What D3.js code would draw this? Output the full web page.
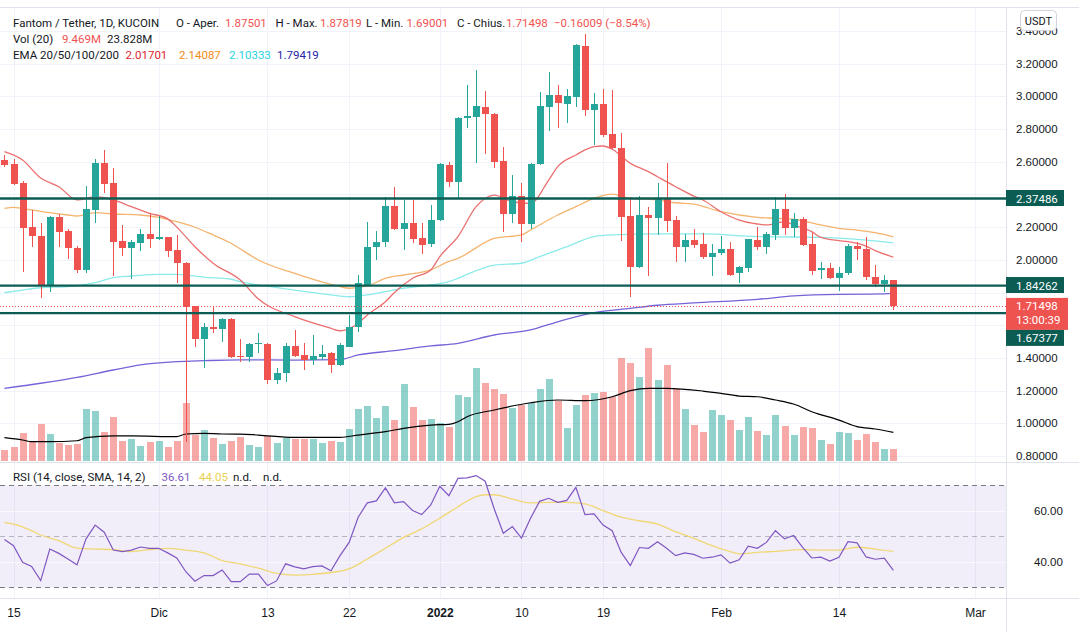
<!DOCTYPE html>
<html>
<head>
<meta charset="utf-8">
<script src="https://cdn.jsdelivr.net/npm/d3@7"></script>
<style>
  body { margin: 0; background: #fff; }
  svg { display: block; font-family: Roboto, 'Noto Sans', sans-serif; }
</style>
</head>
<body>
<script>
(function (d3) {
  'use strict';

  // FTM/USDT daily, KuCoin, 14 Nov 2021 .. 20 Feb 2022
  const firstDay = '2021-11-14';
  const afterLastDay = '2022-02-21';

  const opens = [
    2.612, 2.586, 2.472, 2.199, 2.146, 1.840, 2.260, 2.178, 2.074, 1.938, 2.305, 2.594, 2.472, 2.115, 2.074, 2.105, 2.156,
    2.127, 2.137, 2.060, 1.979, 1.717, 1.517, 1.591, 1.579, 1.638, 1.412, 1.404, 1.482, 1.485, 1.265, 1.306, 1.473,
    1.418, 1.387, 1.407, 1.428, 1.357, 1.469, 1.591, 1.846, 2.076, 2.107, 2.331, 2.188, 2.227, 2.131, 2.094,
    2.243, 2.580, 2.478, 2.866, 2.876, 2.933, 2.890, 2.604, 2.278, 2.390, 2.217, 2.584, 2.937, 3.008, 2.953, 2.997,
    3.308, 2.916, 2.953, 2.769, 2.682, 2.268, 1.954, 2.274, 2.254, 2.376, 2.243, 2.076, 2.121, 2.097, 2.019,
    2.040, 2.064, 1.917, 1.952, 2.121, 2.080, 2.152, 2.309, 2.192, 2.248, 2.097, 1.938, 1.952, 1.887, 1.917, 2.084,
    2.064, 1.897, 1.852, 1.87501
  ];
  const highs = [
    2.640, 2.615, 2.480, 2.305, 2.223, 2.265, 2.280, 2.190, 2.085, 2.451, 2.615, 2.672, 2.560, 2.213, 2.120, 2.186, 2.284,
    2.268, 2.140, 2.152, 1.985, 1.720, 1.615, 1.717, 1.642, 1.645, 1.514, 1.490, 1.550, 1.490, 1.336, 1.493, 1.571,
    1.489, 1.540, 1.479, 1.435, 1.490, 1.662, 1.907, 2.233, 2.178, 2.386, 2.447, 2.366, 2.366, 2.227, 2.335,
    2.590, 2.600, 2.875, 3.069, 3.161, 3.032, 2.895, 2.688, 2.519, 2.468, 2.590, 3.028, 3.151, 3.069, 3.043, 3.318,
    3.381, 3.022, 3.043, 3.040, 2.778, 2.386, 2.390, 2.325, 2.468, 2.594, 2.270, 2.158, 2.186, 2.162, 2.097,
    2.146, 2.111, 1.965, 2.130, 2.199, 2.172, 2.382, 2.402, 2.284, 2.260, 2.166, 1.989, 1.980, 1.958, 2.097, 2.111,
    2.142, 1.968, 1.907, 1.87819
  ];
  const lows = [
    2.570, 2.455, 1.927, 2.076, 1.765, 1.805, 2.076, 2.003, 1.917, 1.921, 2.223, 2.407, 1.901, 2.023, 1.881, 2.056, 2.070,
    2.120, 2.019, 1.860, 0.887, 1.469, 1.336, 1.554, 1.499, 1.400, 1.377, 1.377, 1.432, 1.240, 1.240, 1.254, 1.405,
    1.326, 1.357, 1.387, 1.306, 1.350, 1.465, 1.560, 1.840, 1.999, 2.080, 2.180, 2.060, 2.101, 2.035, 2.080,
    2.240, 2.447, 2.376, 2.808, 2.594, 2.647, 2.560, 2.172, 2.227, 2.107, 2.186, 2.580, 2.790, 2.808, 2.839, 2.937,
    2.880, 2.703, 2.753, 2.675, 2.117, 1.771, 1.950, 1.901, 2.152, 2.172, 1.989, 1.987, 2.070, 2.003, 1.901,
    2.030, 1.900, 1.860, 1.927, 2.060, 2.033, 2.121, 2.152, 2.137, 2.085, 1.907, 1.881, 1.883, 1.811, 1.910, 1.999,
    1.876, 1.836, 1.805, 1.69001
  ];
  const closes = [
    2.582, 2.464, 2.196, 2.147, 1.840, 2.260, 2.172, 2.070, 1.938, 2.311, 2.594, 2.464, 2.111, 2.074, 2.109, 2.156, 2.129,
    2.137, 2.056, 1.979, 1.713, 1.517, 1.591, 1.579, 1.638, 1.407, 1.405, 1.485, 1.490, 1.265, 1.306, 1.473, 1.412,
    1.387, 1.412, 1.424, 1.357, 1.479, 1.591, 1.856, 2.076, 2.107, 2.331, 2.188, 2.223, 2.127, 2.090, 2.243,
    2.584, 2.478, 2.869, 2.879, 2.941, 2.890, 2.600, 2.278, 2.390, 2.217, 2.584, 2.941, 3.008, 2.957, 3.002, 3.314,
    2.916, 2.953, 2.763, 2.682, 2.264, 1.958, 2.274, 2.254, 2.376, 2.239, 2.076, 2.121, 2.090, 2.019, 2.040,
    2.066, 1.907, 1.958, 2.125, 2.080, 2.158, 2.309, 2.192, 2.248, 2.090, 1.934, 1.952, 1.887, 1.917, 2.084, 2.064,
    1.893, 1.852, 1.875, 1.71498
  ];
  // volume in millions
  const volumes = [
    8.6, 10.9, 23.5, 15.8, 31.0, 22.4, 14.9, 12.9, 13.8, 44.2, 42.4, 24.1, 37.3, 16.4, 18.1, 12.3, 15.8,
    16.4, 11.5, 16.4, 48.8, 21.5, 25.8, 19.2, 13.5, 16.4, 20.1, 12.9, 11.5, 20.7, 14.9, 18.7, 17.8,
    17.8, 17.8, 14.4, 16.4, 15.2, 26.7, 43.9, 46.5, 36.4, 46.5, 34.4, 65.4, 45.6, 34.4, 35.3,
    31.6, 28.7, 56.0, 54.5, 79.0, 66.6, 61.1, 56.8, 44.5, 47.4, 48.8, 61.1, 69.7, 51.1, 27.8, 47.4,
    56.0, 57.9, 58.8, 54.5, 87.6, 83.8, 71.7, 96.7, 68.9, 81.8, 60.9, 43.9, 30.1, 24.1, 43.1,
    38.5, 34.4, 25.8, 36.8, 25.0, 21.5, 38.5, 29.3, 21.5, 28.2, 27.3, 17.2, 13.8, 23.9, 23.0, 17.2,
    22.4, 15.2, 9.5, 9.469
  ];
  const volumeMa = [
    ['2021-11-14', 19.2], ['2021-11-16', 17.2], ['2021-11-17', 15.8], ['2021-11-19', 15.8], ['2021-11-22', 16.6],
    ['2021-11-23', 19.2], ['2021-11-26', 20.7], ['2021-11-28', 20.7], ['2021-12-03', 20.1], ['2021-12-04', 22.4],
    ['2021-12-06', 23.0], ['2021-12-08', 22.4], ['2021-12-10', 22.3], ['2021-12-12', 21.5], ['2021-12-16', 19.5],
    ['2021-12-21', 19.5], ['2021-12-23', 21.5], ['2021-12-26', 24.4], ['2021-12-28', 27.3], ['2021-12-31', 30.1],
    ['2022-01-02', 30.7], ['2022-01-03', 33.0], ['2022-01-04', 37.3], ['2022-01-07', 43.1], ['2022-01-11', 49.3],
    ['2022-01-14', 51.7], ['2022-01-17', 51.1], ['2022-01-20', 54.5], ['2022-01-22', 59.7], ['2022-01-24', 61.7],
    ['2022-01-26', 61.7], ['2022-01-30', 59.4], ['2022-02-01', 57.4], ['2022-02-03', 55.1], ['2022-02-05', 54.5],
    ['2022-02-07', 51.7], ['2022-02-09', 48.2], ['2022-02-11', 41.6], ['2022-02-14', 34.4], ['2022-02-16', 28.7],
    ['2022-02-18', 26.7], ['2022-02-20', 23.828]
  ];

  const ema20 = [
    ['2021-11-14', 2.661], ['2021-11-16', 2.61], ['2021-11-18', 2.50], ['2021-11-20', 2.447], ['2021-11-22', 2.366],
    ['2021-11-24', 2.386], ['2021-11-26', 2.366], ['2021-11-28', 2.325], ['2021-11-30', 2.284], ['2021-12-02', 2.25],
    ['2021-12-03', 2.20], ['2021-12-05', 2.08], ['2021-12-07', 1.979], ['2021-12-10', 1.876], ['2021-12-12', 1.76],
    ['2021-12-16', 1.652], ['2021-12-20', 1.581], ['2021-12-21', 1.566], ['2021-12-23', 1.612], ['2021-12-24', 1.662],
    ['2021-12-26', 1.744], ['2021-12-27', 1.80], ['2021-12-29', 1.887], ['2021-12-31', 1.938], ['2022-01-01', 2.02],
    ['2022-01-03', 2.142], ['2022-01-05', 2.325], ['2022-01-07', 2.396], ['2022-01-09', 2.355], ['2022-01-11', 2.345],
    ['2022-01-13', 2.488], ['2022-01-14', 2.57], ['2022-01-16', 2.641], ['2022-01-18', 2.692], ['2022-01-19', 2.696],
    ['2022-01-20', 2.676], ['2022-01-22', 2.59], ['2022-01-24', 2.539], ['2022-01-25', 2.508], ['2022-01-27', 2.447],
    ['2022-01-29', 2.39], ['2022-01-30', 2.366], ['2022-02-01', 2.294], ['2022-02-03', 2.243], ['2022-02-05', 2.219],
    ['2022-02-06', 2.213], ['2022-02-08', 2.233], ['2022-02-09', 2.213], ['2022-02-11', 2.172], ['2022-02-12', 2.137],
    ['2022-02-14', 2.117], ['2022-02-15', 2.111], ['2022-02-17', 2.084], ['2022-02-18', 2.056], ['2022-02-20', 2.01701]
  ];
  const ema50 = [
    ['2021-11-14', 2.315], ['2021-11-15', 2.321], ['2021-11-17', 2.305], ['2021-11-19', 2.288], ['2021-11-21', 2.274],
    ['2021-11-22', 2.268], ['2021-11-24', 2.288], ['2021-11-26', 2.28], ['2021-11-29', 2.274], ['2021-12-01', 2.26],
    ['2021-12-03', 2.233], ['2021-12-05', 2.199], ['2021-12-07', 2.152], ['2021-12-09', 2.101], ['2021-12-10', 2.066],
    ['2021-12-12', 1.999], ['2021-12-16', 1.917], ['2021-12-20', 1.85], ['2021-12-22', 1.826], ['2021-12-24', 1.84],
    ['2021-12-26', 1.887], ['2021-12-28', 1.907], ['2021-12-31', 1.938], ['2022-01-02', 1.99], ['2022-01-03', 2.009],
    ['2022-01-07', 2.131], ['2022-01-10', 2.152], ['2022-01-11', 2.182], ['2022-01-14', 2.274], ['2022-01-16', 2.325],
    ['2022-01-18', 2.376], ['2022-01-20', 2.402], ['2022-01-22', 2.376], ['2022-01-25', 2.366], ['2022-01-27', 2.349],
    ['2022-01-29', 2.341], ['2022-02-01', 2.294], ['2022-02-05', 2.26], ['2022-02-07', 2.254], ['2022-02-09', 2.248],
    ['2022-02-12', 2.213], ['2022-02-14', 2.192], ['2022-02-16', 2.182], ['2022-02-18', 2.166], ['2022-02-20', 2.14087]
  ];
  const ema100 = [
    ['2021-11-14', 1.799], ['2021-11-16', 1.815], ['2021-11-18', 1.829], ['2021-11-21', 1.836], ['2021-11-24', 1.86],
    ['2021-11-26', 1.891], ['2021-11-28', 1.901], ['2021-12-01', 1.911], ['2021-12-03', 1.911], ['2021-12-06', 1.893],
    ['2021-12-09', 1.881], ['2021-12-10', 1.866], ['2021-12-12', 1.846], ['2021-12-16', 1.815], ['2021-12-20', 1.785],
    ['2021-12-22', 1.774], ['2021-12-24', 1.785], ['2021-12-26', 1.805], ['2021-12-28', 1.826], ['2021-12-31', 1.846],
    ['2022-01-02', 1.866], ['2022-01-03', 1.887], ['2022-01-07', 1.968], ['2022-01-10', 1.979], ['2022-01-12', 2.019],
    ['2022-01-15', 2.08], ['2022-01-18', 2.142], ['2022-01-20', 2.152], ['2022-01-25', 2.158], ['2022-01-30', 2.158],
    ['2022-02-05', 2.142], ['2022-02-12', 2.137], ['2022-02-16', 2.125], ['2022-02-20', 2.10333]
  ];
  const ema200 = [
    ['2021-11-14', 1.214], ['2021-11-18', 1.245], ['2021-11-22', 1.281], ['2021-11-26', 1.326], ['2021-11-29', 1.357],
    ['2021-12-03', 1.377], ['2021-12-06', 1.383], ['2021-12-10', 1.388], ['2021-12-16', 1.387], ['2021-12-21', 1.39],
    ['2021-12-23', 1.418], ['2021-12-27', 1.444], ['2021-12-31', 1.473], ['2022-01-03', 1.489], ['2022-01-07', 1.54],
    ['2022-01-11', 1.571], ['2022-01-14', 1.621], ['2022-01-18', 1.677], ['2022-01-22', 1.703], ['2022-01-25', 1.722],
    ['2022-01-29', 1.736], ['2022-02-05', 1.758], ['2022-02-09', 1.779], ['2022-02-14', 1.789], ['2022-02-19', 1.791],
    ['2022-02-20', 1.79419]
  ];

  const rsiValues = [
    48.7, 46.3, 39.8, 38.2, 32.6, 45.0, 43.3, 41.1, 38.8, 49.0, 54.4, 51.6, 44.6, 44.0, 44.6, 45.8, 45.3,
    45.3, 43.5, 41.5, 36.1, 32.4, 34.6, 34.6, 36.8, 32.2, 32.2, 35.2, 35.2, 30.7, 32.5, 39.2, 38.0,
    37.2, 38.1, 38.4, 36.5, 42.4, 47.6, 57.5, 63.1, 63.9, 69.0, 63.1, 63.6, 60.1, 58.5, 62.3,
    69.6, 65.9, 72.7, 72.9, 73.8, 71.6, 60.7, 51.2, 53.8, 49.3, 57.1, 63.7, 64.9, 63.3, 64.1, 69.2,
    58.5, 58.8, 54.4, 52.2, 43.7, 38.5, 45.6, 45.3, 47.9, 45.3, 42.4, 43.5, 42.9, 41.4, 41.8,
    42.7, 39.5, 40.8, 46.1, 45.3, 47.6, 52.2, 49.0, 50.3, 45.7, 41.5, 41.8, 40.3, 41.8, 47.9, 47.4,
    41.9, 41.0, 41.4, 36.61
  ];
  const rsiMa = [
    ['2021-11-14', 55.5], ['2021-11-15', 54.8], ['2021-11-17', 52.2], ['2021-11-18', 50.5], ['2021-11-20', 48.3],
    ['2021-11-22', 45.4], ['2021-11-24', 45.0], ['2021-11-26', 44.8], ['2021-11-28', 44.0], ['2021-11-30', 44.8],
    ['2021-12-02', 45.3], ['2021-12-04', 44.6], ['2021-12-06', 43.5], ['2021-12-08', 40.5], ['2021-12-10', 39.2],
    ['2021-12-12', 37.5], ['2021-12-14', 35.5], ['2021-12-16', 34.8], ['2021-12-18', 35.1], ['2021-12-20', 35.8],
    ['2021-12-22', 37.2], ['2021-12-24', 41.1], ['2021-12-26', 45.3], ['2021-12-28', 49.6], ['2021-12-30', 52.9],
    ['2022-01-01', 57.1], ['2022-01-03', 61.6], ['2022-01-05', 65.6], ['2022-01-06', 66.3], ['2022-01-07', 66.3],
    ['2022-01-09', 64.6], ['2022-01-11', 63.1], ['2022-01-13', 63.3], ['2022-01-15', 63.3], ['2022-01-17', 62.7],
    ['2022-01-19', 60.1], ['2022-01-21', 57.5], ['2022-01-23', 56.1], ['2022-01-25', 54.8], ['2022-01-27', 51.8],
    ['2022-01-29', 49.2], ['2022-01-31', 46.3], ['2022-02-02', 44.0], ['2022-02-03', 43.1], ['2022-02-05', 43.7],
    ['2022-02-07', 44.1], ['2022-02-10', 44.8], ['2022-02-12', 44.6], ['2022-02-14', 44.6], ['2022-02-16', 45.7],
    ['2022-02-18', 45.0], ['2022-02-20', 44.05]
  ];

  const priceTicks = [0.8, 1.0, 1.2, 1.4, 1.6, 1.8, 2.0, 2.2, 2.4, 2.6, 2.8, 3.0, 3.2, 3.4];
  const rsiTicks = [40, 60];
  const dateTicks = ['2021-11-15', '2021-12-01', '2021-12-13', '2021-12-22', '2022-01-01',
    '2022-01-10', '2022-01-19', '2022-02-01', '2022-02-14', '2022-03-01'];
  const dateLabels = ['15', 'Dic', '13', '22', '2022', '10', '19', 'Feb', '14', 'Mar'];
  const levels = [2.37486, 1.84262, 1.67377];
  const lastPrice = 1.71498;
  const countdown = '13:00:39';

  const width = 1079;
  const height = 632;
  const axisX = 1007;
  const priceTop = 8;
  const priceBottom = 462;
  const rsiBottom = 598;

  const ink = '#131722';
  const up = '#26a69a';
  const down = '#ef5350';
  const grid = '#f0f3fa';
  const border = '#e0e3eb';
  const levelColor = '#0b5c53';

  const parse = d3.utcParse('%Y-%m-%d');
  const days = d3.utcDay.range(parse(firstDay), parse(afterLastDay));
  const candles = days.map((d, i) => ({
    date: d, o: opens[i], h: highs[i], l: lows[i], c: closes[i], v: volumes[i], rsi: rsiValues[i],
  }));

  const x = d3.scaleUtc()
    .domain([parse('2021-11-15'), parse('2022-03-01')])
    .range([13.5, 975]);
  const y = d3.scaleLinear().domain([0.8, 3.4]).range([456, 30.9]);
  const yVol = d3.scaleLinear().domain([0, 100]).range([460, 343.9]);
  const yRsi = d3.scaleLinear().domain([30, 70]).range([587.3, 485.3]);

  const svg = d3.select('body')
    .append('svg')
    .attr('width', width)
    .attr('height', height);

  const defs = svg.append('defs');
  defs.append('clipPath').attr('id', 'clipPrice')
    .append('rect').attr('x', 0).attr('y', priceTop).attr('width', axisX).attr('height', priceBottom - priceTop);
  defs.append('clipPath').attr('id', 'clipRsi')
    .append('rect').attr('x', 0).attr('y', priceBottom + 1).attr('width', axisX).attr('height', rsiBottom - priceBottom - 1);

  // grid
  const gridG = svg.append('g').attr('shape-rendering', 'crispEdges');
  gridG.selectAll('.vgrid')
    .data(dateTicks)
    .join('line')
    .attr('x1', (d) => Math.round(x(parse(d))) + 0.5)
    .attr('x2', (d) => Math.round(x(parse(d))) + 0.5)
    .attr('y1', priceTop)
    .attr('y2', rsiBottom)
    .attr('stroke', grid);
  gridG.selectAll('.hgrid')
    .data(priceTicks)
    .join('line')
    .attr('x1', 0).attr('x2', axisX)
    .attr('y1', (d) => Math.round(y(d)) + 0.5)
    .attr('y2', (d) => Math.round(y(d)) + 0.5)
    .attr('stroke', grid);

  // RSI background band and levels
  const rsiG = svg.append('g').attr('clip-path', 'url(#clipRsi)');
  rsiG.append('rect')
    .attr('x', 0).attr('width', axisX)
    .attr('y', yRsi(70)).attr('height', yRsi(30) - yRsi(70))
    .attr('fill', 'rgba(126,87,194,0.1)');
  rsiG.selectAll('.rgrid')
    .data(rsiTicks)
    .join('line')
    .attr('x1', 0).attr('x2', axisX)
    .attr('y1', (d) => Math.round(yRsi(d)) + 0.5)
    .attr('y2', (d) => Math.round(yRsi(d)) + 0.5)
    .attr('stroke', 'rgba(255,255,255,0.6)');
  rsiG.selectAll('.band')
    .data([70, 50, 30])
    .join('line')
    .attr('x1', 0).attr('x2', axisX)
    .attr('y1', (d) => Math.round(yRsi(d)) + 0.5)
    .attr('y2', (d) => Math.round(yRsi(d)) + 0.5)
    .attr('stroke', (d) => (d === 50 ? 'rgba(120,123,134,0.5)' : '#787b86'))
    .attr('stroke-dasharray', '5,4');

  // price pane
  const priceG = svg.append('g').attr('clip-path', 'url(#clipPrice)');

  priceG.append('g')
    .attr('shape-rendering', 'crispEdges')
    .selectAll('rect')
    .data(candles)
    .join('rect')
    .attr('x', (d) => Math.round(x(d.date)) - 3)
    .attr('width', 7)
    .attr('y', (d) => yVol(d.v))
    .attr('height', (d) => 461 - yVol(d.v))
    .attr('fill', (d) => (d.c >= d.o ? 'rgba(38,166,154,0.5)' : 'rgba(239,83,80,0.5)'));

  const smooth = (scale) => d3.line()
    .x((p) => x(parse(p[0])))
    .y((p) => scale(p[1]))
    .curve(d3.curveMonotoneX);

  priceG.append('path')
    .attr('d', smooth(yVol)(volumeMa))
    .attr('fill', 'none')
    .attr('stroke', '#000')
    .attr('stroke-width', 1.2);

  priceG.selectAll('.ema')
    .data([
      [ema200, '#7464d8'],
      [ema100, '#8ceaea'],
      [ema50, '#f5b46e'],
      [ema20, '#ec6f6f'],
    ])
    .join('path')
    .attr('d', (d) => smooth(y)(d[0]))
    .attr('fill', 'none')
    .attr('stroke', (d) => d[1])
    .attr('stroke-width', 1.3);

  const candleG = priceG.append('g').attr('shape-rendering', 'crispEdges');
  candleG.selectAll('line')
    .data(candles)
    .join('line')
    .attr('x1', (d) => Math.round(x(d.date)) + 0.5)
    .attr('x2', (d) => Math.round(x(d.date)) + 0.5)
    .attr('y1', (d) => y(d.h))
    .attr('y2', (d) => y(d.l))
    .attr('stroke', (d) => (d.c >= d.o ? up : down));
  candleG.selectAll('rect')
    .data(candles)
    .join('rect')
    .attr('x', (d) => Math.round(x(d.date)) - 3)
    .attr('width', 7)
    .attr('y', (d) => y(Math.max(d.o, d.c)))
    .attr('height', (d) => Math.max(1, Math.abs(y(d.o) - y(d.c))))
    .attr('fill', (d) => (d.c >= d.o ? up : down));

  priceG.selectAll('.level')
    .data(levels)
    .join('line')
    .attr('x1', 0).attr('x2', axisX)
    .attr('y1', (d) => y(d))
    .attr('y2', (d) => y(d))
    .attr('stroke', levelColor)
    .attr('stroke-width', 2.3);

  priceG.append('line')
    .attr('x1', 0).attr('x2', axisX)
    .attr('y1', Math.round(y(lastPrice)) + 0.5)
    .attr('y2', Math.round(y(lastPrice)) + 0.5)
    .attr('stroke', down)
    .attr('stroke-dasharray', '1,2');

  // RSI lines
  rsiG.append('path')
    .attr('d', smooth(yRsi)(rsiMa))
    .attr('fill', 'none')
    .attr('stroke', '#f0d774')
    .attr('stroke-width', 1.3);
  rsiG.append('path')
    .attr('d', d3.line().x((d) => x(d.date)).y((d) => yRsi(d.rsi))(candles))
    .attr('fill', 'none')
    .attr('stroke', '#7e57c2')
    .attr('stroke-width', 1.2);

  // pane borders
  const borders = svg.append('g').attr('stroke', border).attr('shape-rendering', 'crispEdges');
  borders.append('line').attr('x1', 0).attr('x2', width).attr('y1', 7.5).attr('y2', 7.5);
  borders.append('line').attr('x1', 0).attr('x2', width).attr('y1', priceBottom + 0.5).attr('y2', priceBottom + 0.5);
  borders.append('line').attr('x1', 0).attr('x2', width).attr('y1', rsiBottom + 0.5).attr('y2', rsiBottom + 0.5);
  borders.append('line').attr('x1', axisX - 0.5).attr('x2', axisX - 0.5).attr('y1', 8).attr('y2', height);

  // axis tags: level lines and last price (the lowest tag is pushed below the price tag)
  const lastY = y(lastPrice);
  const tags = [
    { yc: y(levels[0]), h: 16, w: 58, fill: levelColor, lines: [levels[0]] },
    { yc: y(levels[1]), h: 16, w: 58, fill: levelColor, lines: [levels[1]] },
    { yc: lastY, h: 32, w: 62, fill: down, lines: [lastPrice, countdown] },
    { yc: Math.max(y(levels[2]), lastY + 32), h: 16, w: 58, fill: levelColor, lines: [levels[2]] },
  ];
  const covered = (v) => tags.some((t) => y(v) > t.yc - 8.5 - 6 && y(v) < t.yc - 8.5 + t.h + 6);

  // price axis
  const priceAxis = svg.append('g')
    .attr('transform', `translate(${axisX},0)`)
    .call(d3.axisRight(y)
      .tickValues(priceTicks.filter((v) => !covered(v)))
      .tickFormat(d3.format('.5f')).tickSize(0).tickPadding(9));
  priceAxis.select('.domain').remove();
  priceAxis.selectAll('text').attr('fill', ink).attr('font-size', 11.5).attr('font-family', null);

  const rsiAxis = svg.append('g')
    .attr('transform', `translate(${axisX},0)`)
    .call(d3.axisRight(yRsi).tickValues(rsiTicks).tickFormat(d3.format('.2f')).tickSize(0).tickPadding(27));
  rsiAxis.select('.domain').remove();
  rsiAxis.selectAll('text').attr('fill', ink).attr('font-size', 11.5).attr('font-family', null);

  // date axis
  const dateAxis = svg.append('g')
    .attr('transform', `translate(0,${rsiBottom})`)
    .call(d3.axisBottom(x)
      .tickValues(dateTicks.map(parse))
      .tickFormat((d, i) => dateLabels[i])
      .tickSize(0)
      .tickPadding(10));
  dateAxis.select('.domain').remove();
  dateAxis.selectAll('text')
    .attr('fill', ink)
    .attr('font-size', 12)
    .attr('font-family', null)
    .attr('font-weight', (d, i) => (dateLabels[i] === '2022' ? 'bold' : null));

  const fmt = d3.format('.5f');
  tags.forEach((t) => {
    svg.append('rect')
      .attr('x', axisX - 1).attr('y', t.yc - 8.5).attr('width', t.w).attr('height', t.h)
      .attr('fill', t.fill);
    t.lines.forEach((v, i) => {
      svg.append('text')
        .attr('x', axisX + 9).attr('y', t.yc + i * 14).attr('dy', '0.35em')
        .attr('font-size', 11.5).attr('fill', '#fff')
        .text(typeof v === 'number' ? fmt(v) : v);
    });
  });

  // currency button
  svg.append('rect')
    .attr('x', 1020.5).attr('y', 10.5).attr('width', 36).attr('height', 20).attr('rx', 4)
    .attr('fill', '#fff').attr('stroke', '#d1d4dc');
  svg.append('text')
    .attr('x', 1038.5).attr('y', 21).attr('dy', '0.35em').attr('text-anchor', 'middle')
    .attr('font-size', 11).attr('fill', ink)
    .text('USDT');

  // legends
  const legend = (yPos, parts) => {
    const t = svg.append('text').attr('y', yPos).attr('font-size', 11.5);
    parts.forEach(([txt, xPos, color]) => {
      t.append('tspan').attr('x', xPos).attr('fill', color).text(txt);
    });
  };
  legend(27, [
    ['Fantom / Tether, 1D, KUCOIN', 13, ink],
    ['O - Aper.', 176, ink], ['1.87501', 225, down],
    ['H - Max.', 275.5, ink], ['1.87819', 320, down],
    ['L - Min.', 366, ink], ['1.69001', 406.5, down],
    ['C - Chius.', 457, ink], ['1.71498', 506, down],
    ['\u22120.16009 (\u22128.54%)', 554, down],
  ]);
  legend(43, [
    ['Vol (20)', 13, ink], ['9.469M', 62, down], ['23.828M', 107, ink],
  ]);
  legend(59, [
    ['EMA 20/50/100/200', 13, ink], ['2.01701', 125.5, '#e0262f'], ['2.14087', 179, '#f28b1c'],
    ['2.10333', 229, '#27d3e0'], ['1.79419', 277, '#2424a8'],
  ]);
  legend(481, [
    ['RSI (14, close, SMA, 14, 2)', 13, ink], ['36.61', 161.5, '#7e57c2'], ['44.05', 199, '#e9cf4f'],
    ['n.d.', 233, ink], ['n.d.', 263, ink],
  ]);

})(d3);
</script>
</body>
</html>
